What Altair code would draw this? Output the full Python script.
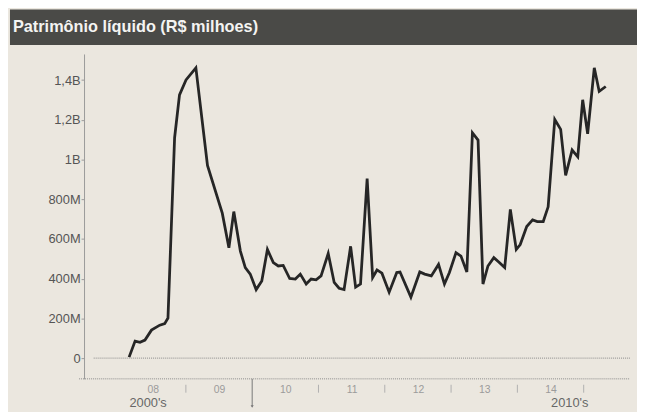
import altair as alt
import pandas as pd

# ---- data ----
years = [2008.144, 2008.234, 2008.308, 2008.383, 2008.481, 2008.606, 2008.681, 2008.730,
         2008.830, 2008.904, 2009.002, 2009.151, 2009.326, 2009.549, 2009.649, 2009.723,
         2009.822, 2009.896, 2009.971, 2010.060, 2010.145, 2010.230, 2010.319, 2010.394,
         2010.468, 2010.566, 2010.651, 2010.726, 2010.815, 2010.889, 2010.964, 2011.039,
         2011.147, 2011.237, 2011.311, 2011.386, 2011.485, 2011.560, 2011.634, 2011.734,
         2011.817, 2011.883, 2011.957, 2012.066, 2012.181, 2012.230, 2012.394, 2012.528,
         2012.602, 2012.702, 2012.811, 2012.900, 2012.975, 2013.074, 2013.149, 2013.238,
         2013.322, 2013.407, 2013.481, 2013.556, 2013.645, 2013.719, 2013.809, 2013.894,
         2013.983, 2014.043, 2014.141, 2014.230, 2014.300, 2014.390, 2014.464, 2014.564,
         2014.653, 2014.728, 2014.826, 2014.911, 2014.985, 2015.060, 2015.160, 2015.234,
         2015.333]
values_m = [5, 86, 80, 91, 141, 166, 174, 202,
            1110, 1326, 1401, 1462, 970, 730, 556, 738,
            539, 456, 423, 345, 389, 547, 481, 464,
            467, 401, 398, 423, 373, 398, 394, 414,
            527, 381, 352, 345, 563, 357, 373, 904,
            406, 444, 428, 332, 431, 434, 307, 434,
            423, 414, 472, 373, 431, 531, 514, 434,
            1135, 1098, 373, 464, 506, 484, 456, 749,
            547, 572, 663, 696, 688, 688, 762, 1202,
            1152, 920, 1048, 1014, 1301, 1130, 1462, 1343,
            1368]

y_ticks = [0, 200e6, 400e6, 600e6, 800e6, 1000e6, 1200e6, 1400e6]
label_years = [2008.5, 2009.5, 2010.5, 2011.5, 2012.5, 2013.5, 2014.5]
tick_years = [2009, 2011, 2012, 2013, 2014, 2015]
decade_break = [2010]
decade_labels = ["2000's", "2010's"]
decade_pos = [2008.43, 2014.79]
title_text = "Patrimônio líquido (R$ milhoes)"

# ---- layout ----
W, H = 553, 329
X_DOM = [2007.464, 2015.70]
Y_DOM = [-104.4e6, 1531.7e6]
BG = "#ebe7df"
FONT = "Liberation Sans"

df = pd.DataFrame({"ano": years, "valor": [v * 1e6 for v in values_m]})
xs = alt.Scale(domain=X_DOM, nice=False, zero=False)
ys = alt.Scale(domain=Y_DOM, nice=False, zero=False)

y_label_expr = ("datum.value == 0 ? '0' : (datum.value >= 1e9 ? "
                "replace(format(datum.value / 1e9, '.1~f'), '.', ',') + 'B' : "
                "format(datum.value / 1e6, 'd') + 'M')")

line = alt.Chart(df).mark_line(color="#262626", strokeWidth=2.8).encode(
    x=alt.X("ano:Q", scale=xs, axis=alt.Axis(
        values=label_years, labelExpr="substring(toString(floor(datum.value)), 2, 4)",
        domain=False, ticks=False, grid=False, title=None, labelFontSize=10.5,
        labelColor="#9b9b9b", labelPadding=6, labelFont=FONT)),
    y=alt.Y("valor:Q", scale=ys, axis=alt.Axis(
        values=y_ticks, labelExpr=y_label_expr, grid=False, title=None,
        domainColor="#9a9a9a", tickColor="#9a9a9a", tickSize=3, labelPadding=1,
        labelFontSize=13, labelColor="#555555", labelFont=FONT)),
)

zero_df = pd.DataFrame({"x0": [2007.61], "x1": [X_DOM[1]], "y": [0]})
zero_rule = alt.Chart(zero_df).mark_rule(color="#8a8a8a", strokeDash=[1, 1], strokeWidth=1).encode(
    x=alt.X("x0:Q", scale=xs), x2="x1:Q", y=alt.Y("y:Q", scale=ys))

base_rule = alt.Chart(pd.DataFrame({"a": [0]})).mark_rule(
    color="#8a8a8a", strokeDash=[1, 1], strokeWidth=1).encode(
    x=alt.value(-5), x2=alt.value(W), y=alt.value(H))

ticks = alt.Chart(pd.DataFrame({"t": tick_years})).mark_rule(color="#b0b0b0", strokeWidth=1).encode(
    x=alt.X("t:Q", scale=xs), y=alt.value(H + 6), y2=alt.value(H + 14))

long_tick = alt.Chart(pd.DataFrame({"t": decade_break})).mark_rule(color="#777777", strokeWidth=1).encode(
    x=alt.X("t:Q", scale=xs), y=alt.value(H), y2=alt.value(H + 28))
arrow = alt.Chart(pd.DataFrame({"t": decade_break})).mark_point(
    shape="triangle-down", filled=True, size=10, color="#777777", opacity=1).encode(
    x=alt.X("t:Q", scale=xs), y=alt.value(H + 28))

decades = alt.Chart(pd.DataFrame({"lab": decade_labels, "pos": decade_pos})).mark_text(
    fontSize=13, color="#676767", font=FONT, baseline="middle").encode(
    x=alt.X("pos:Q", scale=xs), y=alt.value(H + 24), text="lab:N")

bar = alt.Chart(pd.DataFrame({"a": [0]})).mark_rect(color="#4a4a47").encode(
    x=alt.value(-75), x2=alt.value(W + 7), y=alt.value(-45), y2=alt.value(-9))
title = alt.Chart(pd.DataFrame({"a": [0]})).mark_text(
    align="left", baseline="middle", fontSize=16.5, fontWeight="bold",
    color="#f4f4f2", font=FONT).encode(
    x=alt.value(-72), y=alt.value(-27), text=alt.value(title_text))

chart = alt.layer(bar, title, zero_rule, base_rule, ticks, long_tick, arrow, decades, line).properties(
    width=W, height=H, autosize="none",
    padding={"left": 77, "top": 44, "right": 7, "bottom": 31},
    background=BG,
).configure_view(stroke=None)

chart.save("out.html", embed_options={"renderer": "svg", "actions": False})
